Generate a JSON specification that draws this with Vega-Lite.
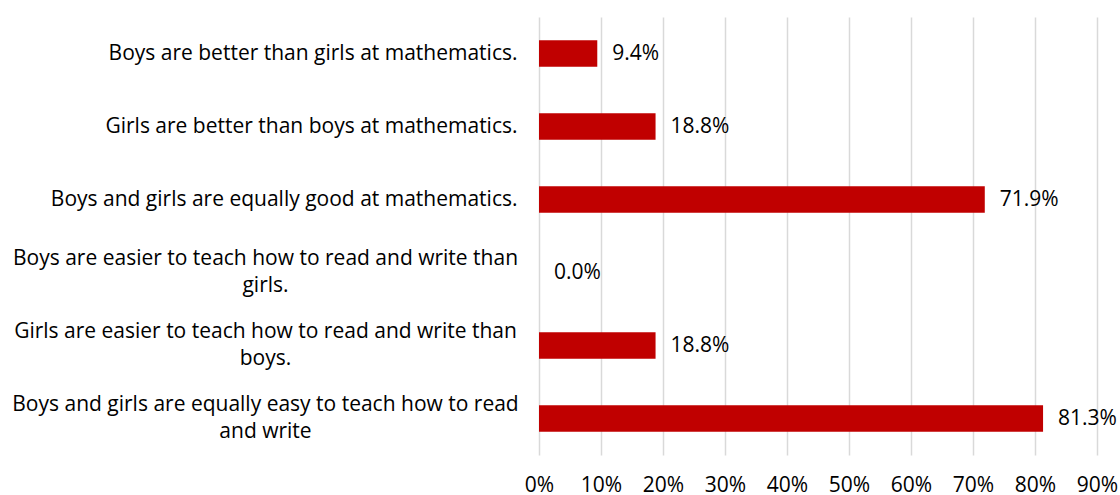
{
  "$schema": "https://vega.github.io/schema/vega-lite/v6.json",
  "autosize": {"type": "none"},
  "padding": {"left": 539, "top": 17, "right": 23, "bottom": 40},
  "width": 558,
  "height": 438,
  "background": "white",
  "config": {"view": {"stroke": null}, "font": "Open Sans"},
  "data": {
    "values": [
      {"q": "Boys are better than girls at mathematics.", "v": 0.094},
      {"q": "Girls are better than boys at mathematics.", "v": 0.188},
      {"q": "Boys and girls are equally good at mathematics.", "v": 0.719},
      {"q": "Boys are easier to teach how to read and write than|girls.", "v": 0.0},
      {"q": "Girls are easier to teach how to read and write than|boys.", "v": 0.188},
      {"q": "Boys and girls are equally easy to teach how to read|and write", "v": 0.813}
    ]
  },
  "encoding": {
    "y": {
      "field": "q",
      "type": "nominal",
      "sort": null,
      "scale": {"paddingInner": 0.64, "paddingOuter": 0.32},
      "axis": {
        "title": null,
        "domain": false,
        "ticks": false,
        "tickSize": 0,
        "labelExpr": "split(datum.label, '|')",
        "labelFont": "Open Sans",
        "labelFontSize": 21,
        "labelColor": "#000000",
        "labelLineHeight": 27,
        "labelLimit": 600,
        "labelBaseline": "middle",
        "labelAlign": {"condition": {"test": "indexof(datum.value, '|') >= 0", "value": "center"}, "value": "right"},
        "labelPadding": {"condition": {"test": "indexof(datum.value, '|') >= 0", "value": 274}, "value": 22},
        "labelOffset": {"condition": {"test": "indexof(datum.value, '|') >= 0", "value": -13.5}, "value": 0}
      }
    },
    "x": {
      "field": "v",
      "type": "quantitative",
      "scale": {"domain": [0, 0.9], "nice": false},
      "axis": {
        "title": null,
        "format": ".0%",
        "values": [0, 0.1, 0.2, 0.3, 0.4, 0.5, 0.6, 0.7, 0.8, 0.9],
        "domain": false,
        "ticks": false,
        "tickSize": 0,
        "grid": true,
        "gridColor": "#d9d9d9",
        "gridWidth": 1.5,
        "labelFont": "Open Sans",
        "labelFontSize": 21,
        "labelColor": "#000000",
        "labelPadding": 19,
        "labelFlush": false,
        "labelOverlap": false
      }
    }
  },
  "layer": [
    {"mark": {"type": "bar", "color": "#C00000"}},
    {
      "mark": {"type": "text", "align": "left", "baseline": "middle", "dx": 15, "fontSize": 21, "font": "Open Sans", "color": "#000000"},
      "encoding": {"text": {"field": "v", "type": "quantitative", "format": ".1%"}}
    }
  ]
}
